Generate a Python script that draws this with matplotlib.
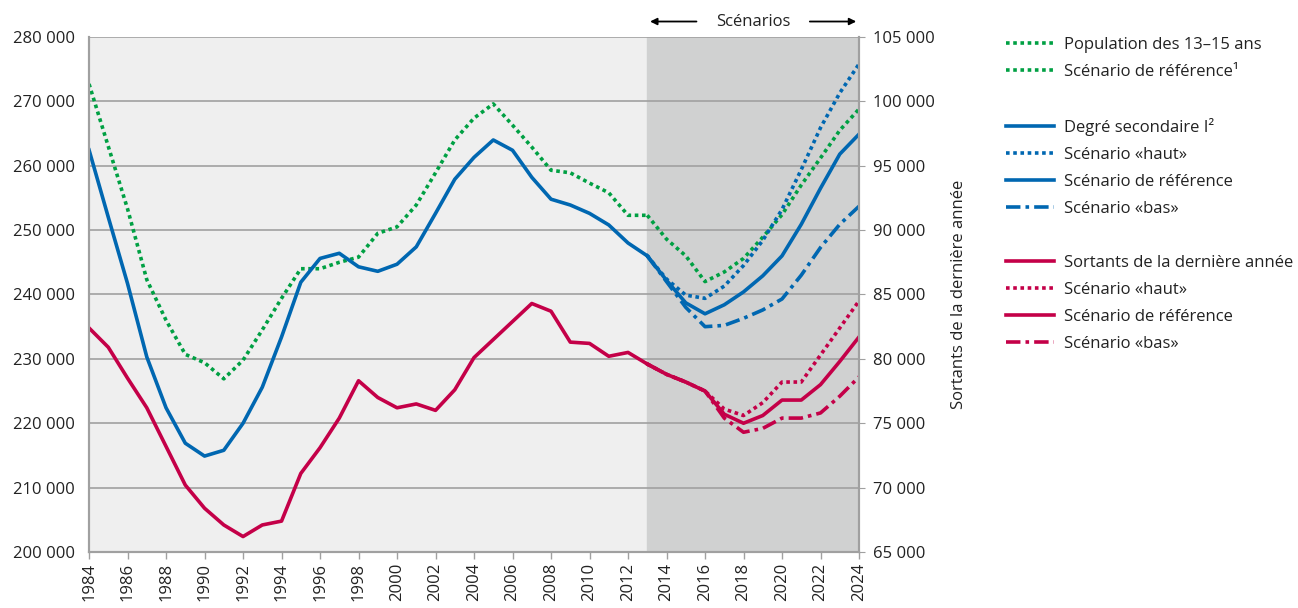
import matplotlib.pyplot as plt
from matplotlib.lines import Line2D
import numpy as np

plt.rcParams['font.family'] = ['Open Sans', 'DejaVu Sans']

# historical years and scenario years
years_hist = list(range(1984, 2014))
years_scen = list(range(2013, 2025))

# population 13-15 ans (left axis)
pop_hist = [272700, 263000, 253300, 242300, 236000, 230700, 229400, 226900, 229800, 234500,
            239400, 244000, 244000, 245000, 245800, 249500, 250500, 253900, 258900, 264000,
            267400, 269600, 266300, 262900, 259300, 258900, 257300, 255800, 252300, 252300]
pop_ref = [252300, 248600, 246000, 242000, 243500, 245600, 248900, 252400, 257000, 261200, 265500, 268800]

# degré secondaire I (left axis)
sec_hist = [262450, 252000, 241700, 230300, 222400, 216900, 214900, 215800, 220000, 225600,
            233400, 241900, 245600, 246400, 244300, 243600, 244700, 247400, 252600, 257900,
            261300, 264000, 262400, 258200, 254800, 253900, 252600, 250800, 248000, 246000]
sec_haut = [246000, 242400, 239900, 239400, 241300, 244500, 248400, 253200, 259400, 265900, 271300, 275800]
sec_ref = [246000, 242200, 238700, 237000, 238400, 240400, 242900, 246000, 250900, 256500, 261800, 264900]
sec_bas = [246000, 242000, 238000, 235000, 235200, 236300, 237600, 239300, 243000, 247300, 250900, 253700]

# sortants de la dernière année (right axis)
sort_hist = [82400, 80900, 78500, 76200, 73200, 70200, 68400, 67100, 66200, 67100,
             67400, 71100, 73100, 75400, 78300, 77000, 76200, 76500, 76000, 77600,
             80100, 81500, 82900, 84300, 83700, 81300, 81200, 80200, 80500, 79600]
sort_haut = [79600, 78800, 78200, 77500, 76100, 75600, 76600, 78200, 78200, 80300, 82400, 84500]
sort_ref = [79600, 78800, 78200, 77500, 75700, 75000, 75600, 76800, 76800, 78000, 79800, 81700]
sort_bas = [79600, 78800, 78200, 77500, 75400, 74300, 74600, 75400, 75400, 75800, 77100, 78600]

green = '#00A043'
blue = '#0067B1'
red = '#C40048'
dotted = (0, (1, 1))
dashdot = (0, (4, 1.4, 1, 1.4))

fig = plt.figure(figsize=(12.98, 6.08), dpi=100)
ax = fig.add_axes([0.0686, 0.0921, 0.5932, 0.8471])
ax2 = ax.twinx()

ax.set_facecolor('#EFEFEF')
ax.axvspan(2013, 2024, color='#D0D1D1', zorder=0)

lw = 2.6
ax.plot(years_hist, pop_hist, color=green, lw=lw, ls=dotted, dash_capstyle='butt')
ax.plot(years_scen, pop_ref, color=green, lw=lw, ls=dotted, dash_capstyle='butt')
ax.plot(years_hist, sec_hist, color=blue, lw=lw)
ax.plot(years_scen, sec_haut, color=blue, lw=lw, ls=dotted, dash_capstyle='butt')
ax.plot(years_scen, sec_bas, color=blue, lw=lw, ls=dashdot, dash_capstyle='butt')
ax.plot(years_scen, sec_ref, color=blue, lw=lw)

ax2.plot(years_hist, sort_hist, color=red, lw=lw)
ax2.plot(years_scen, sort_haut, color=red, lw=lw, ls=dotted, dash_capstyle='butt')
ax2.plot(years_scen, sort_bas, color=red, lw=lw, ls=dashdot, dash_capstyle='butt')
ax2.plot(years_scen, sort_ref, color=red, lw=lw)

ax.set_xlim(1984, 2024)
ax.set_ylim(200000, 280000)
ax2.set_ylim(65000, 105000)

ax.set_yticks(np.arange(200000, 280001, 10000))
ax.set_yticklabels([f'{v:,}'.replace(',', ' ') for v in range(200000, 280001, 10000)])
ax2.set_yticks(np.arange(65000, 105001, 5000))
ax2.set_yticklabels([f'{v:,}'.replace(',', ' ') for v in range(65000, 105001, 5000)])
ax.set_xticks(range(1984, 2025, 2))
ax.set_xticklabels([str(y) for y in range(1984, 2025, 2)], rotation=90)

ax.grid(axis='y', color='#A0A0A0', lw=1.2)
ax.set_axisbelow(True)
ax.tick_params(axis='y', length=0, labelsize=12, pad=10, colors='#222222')
ax.tick_params(axis='x', length=5, width=1, labelsize=12, pad=3, colors='#222222')
ax.tick_params(axis='x', color='#A0A0A0')
ax2.tick_params(axis='y', length=4, color='#A0A0A0', labelsize=12, pad=6, labelcolor='#222222')

for a in (ax, ax2):
    a.spines['top'].set_visible(False)
    for s in ('left', 'right', 'bottom'):
        a.spines[s].set_color('#A0A0A0')
        a.spines[s].set_linewidth(1.5)

ax2.set_ylabel('Sortants de la dernière année', fontsize=12, labelpad=12, color='#222222')

# Scénarios annotation
ax.text(2018.5, 1.03, 'Scénarios', transform=ax.get_xaxis_transform(), ha='center', va='center',
        fontsize=12, color='#222222')
arrow = dict(arrowstyle='-|>', color='black', lw=1.3, mutation_scale=10)
ax.annotate('', xy=(2013, 1.03), xytext=(2015.7, 1.03), xycoords=ax.get_xaxis_transform(),
            textcoords=ax.get_xaxis_transform(), arrowprops=arrow, annotation_clip=False)
ax.annotate('', xy=(2024, 1.03), xytext=(2021.3, 1.03), xycoords=ax.get_xaxis_transform(),
            textcoords=ax.get_xaxis_transform(), arrowprops=arrow, annotation_clip=False)

# legend
blank = Line2D([], [], color='none')
handles = [
    Line2D([], [], color=green, lw=lw, ls=dotted, dash_capstyle='butt'),
    Line2D([], [], color=green, lw=lw, ls=dotted, dash_capstyle='butt'),
    blank,
    Line2D([], [], color=blue, lw=lw),
    Line2D([], [], color=blue, lw=lw, ls=dotted, dash_capstyle='butt'),
    Line2D([], [], color=blue, lw=lw),
    Line2D([], [], color=blue, lw=lw, ls=dashdot, dash_capstyle='butt'),
    blank,
    Line2D([], [], color=red, lw=lw),
    Line2D([], [], color=red, lw=lw, ls=dotted, dash_capstyle='butt'),
    Line2D([], [], color=red, lw=lw),
    Line2D([], [], color=red, lw=lw, ls=dashdot, dash_capstyle='butt'),
]
labels = ['Population des 13–15 ans', 'Scénario de référence¹', ' ',
          'Degré secondaire I²', 'Scénario «haut»', 'Scénario de référence', 'Scénario «bas»', ' ',
          'Sortants de la dernière année', 'Scénario «haut»', 'Scénario de référence', 'Scénario «bas»']
fig.legend(handles, labels, loc='upper left', bbox_to_anchor=(0.771, 0.947), frameon=False,
           fontsize=12, handlelength=2.9, handletextpad=0.6, labelspacing=0.66,
           borderaxespad=0, borderpad=0.3, labelcolor='#222222')

fig.savefig('out.png', dpi=100)
